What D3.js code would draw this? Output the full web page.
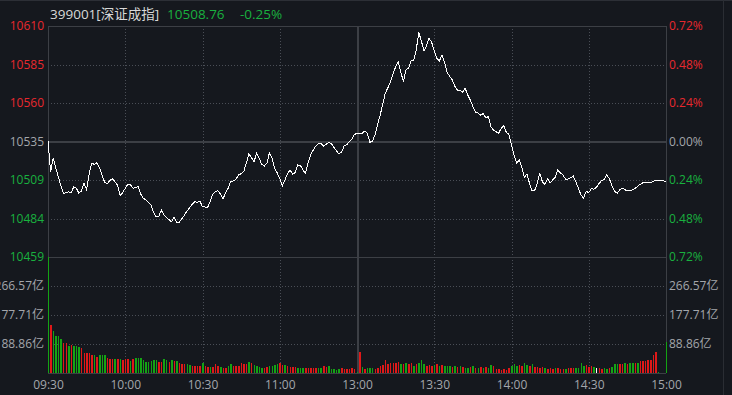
<!DOCTYPE html>
<html>
<head>
<meta charset="utf-8">
<script src="https://cdnjs.cloudflare.com/ajax/libs/d3/7.8.5/d3.min.js"></script>
<style>
  body { margin: 0; background: #15181e; overflow: hidden; }
  svg text { font-family: "Open Sans", "Noto Sans CJK SC", sans-serif; }
</style>
</head>
<body>
<div class="chart"></div>
<script>
// header values
var code = "399001", indexName = "[深证成指]";
var lastPrice = "10508.76", lastChange = "-0.25%";
var prevClose = 10535.1;

// axis labels
var timeTickIdx = [0, 30, 60, 90, 120, 150, 180, 210, 240];
var timeLabels = ["09:30", "10:00", "10:30", "11:00", "13:00", "13:30", "14:00", "14:30", "15:00"];
var pctTicks = [0.72, 0.48, 0.24, 0, -0.24, -0.48, -0.72];
var priceLabels = ["10610", "10585", "10560", "10535", "10509", "10484", "10459"];
var pctLabels = ["0.72%", "0.48%", "0.24%", "0.00%", "0.24%", "0.48%", "0.72%"];
var volTicks = [88.86, 177.71, 266.57];
var volLabels = ["88.86亿", "177.71亿", "266.57亿"];
var volMax = 355.43;

// minute prices 09:30 .. 11:30, 13:01 .. 15:00
var prices = [
  10535.4,10515.1,10524.1,10517.9,10512.0,10505.9,10501.1,10501.5,10502.1,10501.5,
  10505.4,10504.4,10501.1,10502.6,10507.6,10503.3,10514.2,10520.8,10520.1,10521.2,
  10517.9,10513.1,10508.3,10507.4,10509.4,10510.7,10508.7,10506.5,10499.6,10501.5,
  10504.4,10507.0,10506.7,10504.4,10505.0,10505.4,10500.6,10497.8,10496.9,10494.9,
  10493.4,10488.6,10485.7,10485.7,10490.1,10486.8,10485.1,10483.7,10482.4,10485.5,
  10482.0,10482.2,10484.4,10486.8,10489.5,10491.6,10493.8,10495.6,10495.2,10496.0,
  10492.1,10492.1,10491.9,10495.6,10500.6,10502.1,10502.8,10500.6,10497.5,10501.7,
  10504.4,10509.0,10509.2,10510.3,10513.1,10514.0,10515.3,10520.8,10526.9,10524.5,
  10521.8,10527.3,10524.1,10520.1,10519.0,10520.8,10527.7,10524.1,10517.5,10514.6,
  10510.7,10505.9,10509.8,10513.8,10516.4,10513.8,10514.6,10519.7,10519.5,10516.4,
  10514.2,10521.2,10526.2,10529.5,10532.1,10533.5,10533.9,10532.1,10533.3,10534.3,
  10533.9,10531.3,10529.1,10526.9,10528.2,10532.1,10533.0,10534.8,10536.7,10539.6,
  10540.5,10540.5,10540.5,10542.0,10540.5,10534.6,10535.4,10539.4,10546.4,10552.5,
  10559.5,10566.9,10570.4,10574.4,10579.4,10584.2,10587.5,10580.9,10574.4,10582.1,
  10583.2,10588.0,10588.0,10595.2,10606.8,10601.1,10594.5,10598.0,10602.9,10600.2,
  10594.5,10589.7,10588.0,10592.1,10587.1,10580.5,10577.9,10575.5,10571.3,10568.9,
  10568.9,10567.6,10570.0,10565.6,10562.4,10558.0,10554.5,10553.8,10552.5,10553.4,
  10550.7,10551.4,10544.8,10542.5,10541.5,10540.5,10543.8,10545.5,10541.1,10539.8,
  10532.8,10526.2,10520.8,10522.9,10518.5,10511.6,10513.8,10507.6,10502.8,10503.0,
  10507.6,10514.2,10508.7,10507.0,10510.5,10508.0,10509.8,10511.6,10516.4,10514.4,
  10513.1,10510.3,10510.5,10511.3,10512.4,10508.5,10504.4,10499.8,10498.0,10502.4,
  10501.5,10504.1,10503.7,10505.0,10507.6,10509.4,10510.3,10513.1,10510.7,10506.1,
  10502.4,10501.1,10503.3,10504.6,10503.4,10502.8,10502.8,10503.4,10504.4,10505.7,
  10507.0,10508.0,10508.0,10508.0,10508.3,10508.7,10509.8,10509.8,10509.6,10509.4,
  10508.76
];

// minute turnover, 亿
var volumes = [
  355,146,127.8,112.4,112.4,103.3,93.1,93.1,82.7,87,
  82.7,82.7,78.7,76.6,60.4,60.4,62.5,54.2,54.2,48.1,
  54.2,54.2,56.4,46,42,42,42,42,42,40,
  42,42,35.8,42,45,45,45,38.9,34.9,34.9,
  37.9,38.9,38.5,34.9,32.8,42,38.5,34.9,38.5,35.8,
  35.8,31.8,26.7,27.6,26.7,23.6,20.5,20.5,20.5,21.5,
  29.7,20.5,18.4,19.4,19.4,26.7,21.5,19.4,16.3,16.3,
  21.5,26.7,20.5,20.5,22.5,29.7,26.7,26.7,34.9,30.7,
  23.6,21.5,18.4,16.3,16.3,18.4,20.5,21.5,23.6,27.6,
  29.7,23.6,23.6,20.5,19.4,18.4,18.4,15.3,14.3,16.3,
  16.3,16.3,16.3,16.3,16.3,16.3,16.3,20.5,19.4,21.5,
  12.3,12.3,9.2,13.3,14.3,13.3,12.3,13.3,14.3,13,
  3,64,18.4,13.3,16.3,16.3,16.3,13.3,14.3,21.4,
  23.5,40.8,28.6,30.6,30.6,30.6,33.7,28.6,26.5,30.6,
  28.6,30.6,20.4,27.6,30.6,38.8,28.6,21.4,23.5,22.5,
  23.5,26.5,22.5,25.5,20.4,21.4,20.4,18.4,20.4,18.4,
  20.4,18.4,15.3,15.3,17.4,20.4,16.3,14.3,17.4,14.3,
  17.4,15.3,24.5,20.4,12.3,12.3,10.2,13.3,10.2,14.3,
  21.4,26.5,20.4,23.5,22.5,30.6,24.5,20.4,26.5,18.4,
  18.4,16.3,17.4,16.3,12.3,14.3,12.3,15.3,14.3,12.3,
  12.3,13.3,14.3,14.3,14.3,14.3,16.3,30.6,20.4,24.5,
  18.4,20.4,18.4,15.3,14.3,13.3,14.3,13.3,15.3,18.4,
  26.5,28.6,28.6,28.6,30.6,28.6,31.7,31.7,30.6,30.6,
  35.7,36.8,35.7,40.8,40.8,54.1,64.3,2,0,0,
  94
];

// r = up, g = down, w = flat
var volDir = ("grggggrrgr" + "gggrrrrrgr" + "gggrrrgrgr" + "rrgrgggggg" + "gggrrggrgr" +
  "grrrggrrrr" + "grrgrrrgrr" + "ggrrrrrrgr" + "ggggrrgggg" + "rrgrrrrggg" +
  "rrrrrggrrg" + "ggggrrrrrr" + "gr" +
  "grgggrrrrr" + "rrrrrgrgrr" + "grgggrrrgr" + "grgggrgrgr" + "ggrgrgrgrg" +
  "grrrrrrrgg" + "grrggrgrrr" + "rgrrrgrrrg" + "rrrggggrrr" + "gwrrggrggg" +
  "rrgrggrgrr" + "rrrrrg" + "ggg").split("");

var red = "#e8282e", green = "#19b13f", gray = "#a3a6ab";
var barRed = "#e01818", barGreen = "#14a314", barFlat = "#ffffff";
var gridColor = "#4a4e56", borderColor = "#3c3f45";

var width = 732, height = 395;
var plotLeft = 48, plotRight = 666, plotTop = 26, plotMid = 257, plotBottom = 373;

var svg = d3.select(".chart").append("svg")
  .attr("width", width).attr("height", height);

svg.append("rect").attr("width", width).attr("height", height).attr("fill", "#15181e");

var x = d3.scaleLinear().domain([0, 240]).range([plotLeft, plotRight]);
var y = d3.scaleLinear()
  .domain([prevClose * (1 - 0.0072), prevClose * (1 + 0.0072)])
  .range([plotMid, plotTop]);
var yv = d3.scaleLinear().domain([0, volMax]).range([plotBottom, plotMid]);

// window chrome lines
svg.append("line").attr("x1", 0).attr("x2", width).attr("y1", 0.5).attr("y2", 0.5)
  .attr("stroke", "#2c2f36");
svg.append("line").attr("x1", 723.5).attr("x2", 723.5).attr("y1", 0).attr("y2", height)
  .attr("stroke", "#2a2d33");

// dotted grid
var grid = svg.append("g").attr("stroke", gridColor).attr("stroke-dasharray", "1,2")
  .attr("shape-rendering", "crispEdges");
pctTicks.filter(function(p) { return Math.abs(p) > 0 && Math.abs(p) < 0.7; }).forEach(function(p) {
  var yy = Math.round(y(prevClose * (1 + p / 100))) + 0.5;
  grid.append("line").attr("x1", plotLeft).attr("x2", plotRight).attr("y1", yy).attr("y2", yy);
});
volTicks.forEach(function(v) {
  var yy = Math.round(yv(v)) + 0.5;
  grid.append("line").attr("x1", plotLeft).attr("x2", plotRight).attr("y1", yy).attr("y2", yy);
});
timeTickIdx.filter(function(t) { return t > 0 && t < 240 && t != 120; }).forEach(function(t) {
  var xx = Math.round(x(t)) + 0.5;
  grid.append("line").attr("x1", xx).attr("x2", xx).attr("y1", plotTop).attr("y2", plotBottom);
});

// solid frame lines
var frame = svg.append("g").attr("stroke", borderColor).attr("shape-rendering", "crispEdges");
[plotTop, plotMid, plotBottom].forEach(function(yy) {
  frame.append("line").attr("x1", plotLeft).attr("x2", plotRight).attr("y1", yy + 0.5).attr("y2", yy + 0.5);
});
frame.append("line").attr("x1", plotLeft).attr("x2", plotRight)
  .attr("y1", Math.round(y(prevClose))).attr("y2", Math.round(y(prevClose)))
  .attr("stroke-width", 2);
[0, 120, 240].forEach(function(t) {
  var xx = Math.round(x(t)) + 0.5;
  frame.append("line").attr("x1", xx).attr("x2", xx).attr("y1", plotTop).attr("y2", plotBottom)
    .attr("stroke-width", t == 120 ? 2 : 1);
});

// volume bars
svg.append("g").attr("shape-rendering", "crispEdges")
  .selectAll("rect").data(volumes).enter().append("rect")
  .attr("x", function(d, i) { return x(i) - 0.5; })
  .attr("y", function(d) { return yv(d); })
  .attr("width", 1.5)
  .attr("height", function(d) { return plotBottom - yv(d); })
  .attr("fill", function(d, i) {
    return volDir[i] == "r" ? barRed : (volDir[i] == "w" ? barFlat : barGreen);
  });

// price line
var line = d3.line()
  .x(function(d, i) { return x(i); })
  .y(function(d) { return y(d); });
svg.append("path").datum(prices)
  .attr("d", line)
  .attr("fill", "none")
  .attr("stroke", "#ffffff")
  .attr("stroke-width", 1)
  .attr("shape-rendering", "crispEdges");

function labelColor(p) { return p > 0 ? red : (p < 0 ? green : gray); }

// left price axis
var priceVals = pctTicks.map(function(p) { return prevClose * (1 + p / 100); });
var leftAxis = svg.append("g").attr("transform", "translate(" + plotLeft + ",0)")
  .call(d3.axisLeft(y).tickValues(priceVals).tickSize(0).tickPadding(4)
    .tickFormat(function(d, i) { return priceLabels[i]; }));
leftAxis.select(".domain").remove();
leftAxis.selectAll("text").attr("fill", function(d, i) { return labelColor(pctTicks[i]); })
  .style("font-size", "12px");

// right percent axis
var rightAxis = svg.append("g").attr("transform", "translate(" + plotRight + ",0)")
  .call(d3.axisRight(y).tickValues(priceVals).tickSize(0).tickPadding(3)
    .tickFormat(function(d, i) { return pctLabels[i]; }));
rightAxis.select(".domain").remove();
rightAxis.selectAll("text").attr("fill", function(d, i) { return labelColor(pctTicks[i]); })
  .style("font-size", "12px");

// volume axes
var volLeft = svg.append("g").attr("transform", "translate(" + plotLeft + ",0)")
  .call(d3.axisLeft(yv).tickValues(volTicks).tickSize(0).tickPadding(4)
    .tickFormat(function(d, i) { return volLabels[i]; }));
volLeft.select(".domain").remove();
volLeft.selectAll("text").attr("fill", gray).style("font-size", "12px");

var volRight = svg.append("g").attr("transform", "translate(" + plotRight + ",0)")
  .call(d3.axisRight(yv).tickValues(volTicks).tickSize(0).tickPadding(3)
    .tickFormat(function(d, i) { return volLabels[i]; }));
volRight.select(".domain").remove();
volRight.selectAll("text").attr("fill", gray).style("font-size", "12px");

// time axis
var timeAxis = svg.append("g").attr("transform", "translate(0," + plotBottom + ")")
  .call(d3.axisBottom(x).tickValues(timeTickIdx).tickSize(0).tickPadding(7)
    .tickFormat(function(d, i) { return timeLabels[i]; }));
timeAxis.select(".domain").remove();
timeAxis.selectAll("text").attr("fill", gray).style("font-size", "12px");

// header
svg.append("text").attr("x", 50).attr("y", 19).style("font-size", "13.5px")
  .attr("fill", "#d8d8d8").text(code + indexName);
svg.append("text").attr("x", 167).attr("y", 19).style("font-size", "13.5px")
  .attr("fill", green).text(lastPrice);
svg.append("text").attr("x", 240).attr("y", 19).style("font-size", "13.5px")
  .attr("fill", green).text(lastChange);
</script>
</body>
</html>
